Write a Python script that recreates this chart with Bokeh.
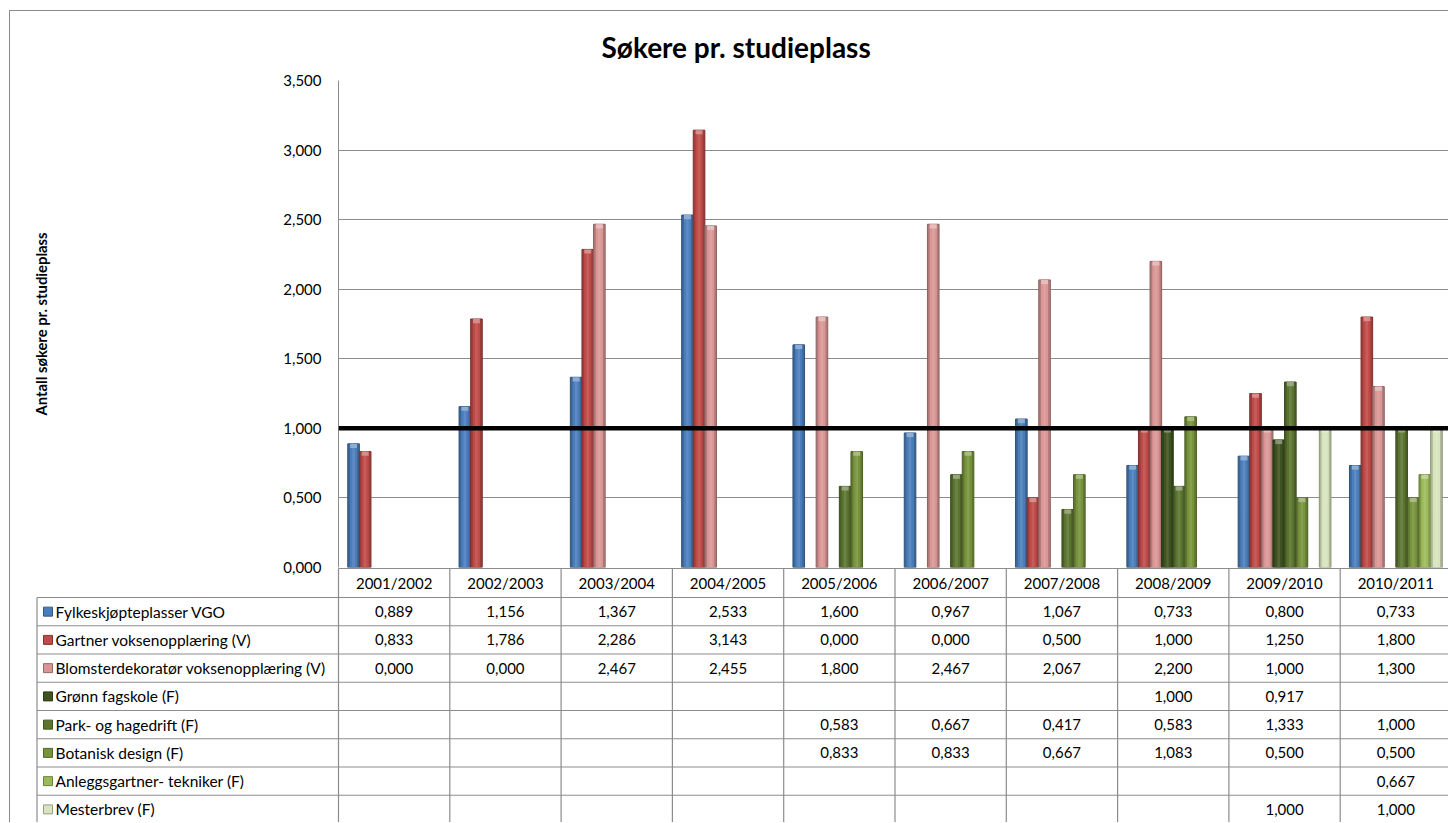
from bokeh.plotting import figure
from bokeh.models import Range1d, FixedTicker, Span, ColumnDataSource
from bokeh.layouts import column
from bokeh.core.properties import value
from bokeh.embed import file_html
from bokeh.resources import INLINE

# ---------------- data ----------------
categories = ["2001/2002", "2002/2003", "2003/2004", "2004/2005", "2005/2006",
              "2006/2007", "2007/2008", "2008/2009", "2009/2010", "2010/2011"]

series_names = ["Fylkeskjøpteplasser VGO",
                "Gartner voksenopplæring (V)",
                "Blomsterdekoratør voksenopplæring (V)",
                "Grønn fagskole  (F)",
                "Park- og hagedrift (F)",
                "Botanisk design (F)",
                "Anleggsgartner- tekniker (F)",
                "Mesterbrev (F)"]

fylkes = [0.889, 1.156, 1.367, 2.533, 1.600, 0.967, 1.067, 0.733, 0.800, 0.733]
gartner = [0.833, 1.786, 2.286, 3.143, 0.000, 0.000, 0.500, 1.000, 1.250, 1.800]
blomster = [0.000, 0.000, 2.467, 2.455, 1.800, 2.467, 2.067, 2.200, 1.000, 1.300]
gronn = [None, None, None, None, None, None, None, 1.000, 0.917, None]
park = [None, None, None, None, 0.583, 0.667, 0.417, 0.583, 1.333, 1.000]
botanisk = [None, None, None, None, 0.833, 0.833, 0.667, 1.083, 0.500, 0.500]
anlegg = [None, None, None, None, None, None, None, None, None, 0.667]
mester = [None, None, None, None, None, None, None, None, 1.000, 1.000]

series_values = [fylkes, gartner, blomster, gronn, park, botanisk, anlegg, mester]

y_ticks = [0.0, 0.5, 1.0, 1.5, 2.0, 2.5, 3.0, 3.5]
reference_level = 1.0

title_text = "Søkere pr. studieplass"
y_title = "Antall søkere pr. studieplass"

# ---------------- style ----------------
colors = ["#4A7EBB", "#BE4B48", "#D99694", "#3F5320",
          "#5B7430", "#77933C", "#9BBB59", "#D7E4BD"]
FONT = "Lato"
GRID = "#8c8c8c"
FS = "15px"
FS_LEG = "15.5px"


def shade(hexcol, f):
    h = hexcol.lstrip("#")
    r, g, b = (int(h[i:i + 2], 16) for i in (0, 2, 4))
    if f < 1:
        r, g, b = (int(c * f) for c in (r, g, b))
    else:
        t = f - 1
        r, g, b = (int(c + (255 - c) * t) for c in (r, g, b))
    return "#%02x%02x%02x" % (r, g, b)


def fmt(v):
    return ("%.3f" % v).replace(".", ",")


# layout constants (screen pixels)
PX = 111.3            # pixels per category
W = 1438
FRAME_LEFT = 328
HA = 568
HB = 255
ROW = 28.25
HDR_PX = 29
ncat = len(categories)
nser = len(series_values)
x_right = (W - FRAME_LEFT) / PX
bw = 0.1042

# ---------------- chart ----------------
pA = figure(width=W, height=HA, x_range=Range1d(0, x_right), y_range=Range1d(0, 3.5),
            output_backend="svg", toolbar_location=None, x_axis_location=None,
            min_border_left=FRAME_LEFT, min_border_right=0, min_border_top=69,
            min_border_bottom=12, title=title_text)
pA.outline_line_color = None
pA.xgrid.grid_line_color = None
pA.ygrid.ticker = FixedTicker(ticks=y_ticks)
pA.ygrid.grid_line_color = GRID
pA.ygrid.grid_line_width = 1

ax = pA.yaxis[0]
ax.ticker = FixedTicker(ticks=y_ticks)
ax.major_label_overrides = {t: fmt(t) for t in y_ticks}
ax.axis_line_color = GRID
ax.major_tick_out = 0
ax.major_tick_in = 0
ax.minor_tick_out = 0
ax.minor_tick_in = 0
ax.major_label_standoff = 17
ax.major_label_text_font = FONT
ax.major_label_text_font_size = FS
ax.major_label_text_color = "black"
ax.axis_label = y_title
ax.axis_label_text_font = FONT
ax.axis_label_text_font_size = "14.8px"
ax.axis_label_text_font_style = "bold"
ax.axis_label_text_color = "black"
ax.axis_label_standoff = 230

pA.title.text_font = FONT
pA.title.text_font_size = "28px"
pA.title.text_font_style = "bold"
pA.title.text_color = "black"
pA.title.align = "left"
pA.title.offset = 263
pA.title.standoff = 33

for k, vals in enumerate(series_values):
    xs, tops = [], []
    for i, v in enumerate(vals):
        if v is not None and v > 0:
            xs.append(i + 0.5 + (k - (nser - 1) / 2) * bw)
            tops.append(v)
    if not xs:
        continue
    src = ColumnDataSource(dict(x=xs, top=tops))
    col = colors[k]
    pA.vbar(x="x", top="top", bottom=0, width=bw, source=src,
            fill_color=shade(col, 0.82), line_color=shade(col, 0.65), line_width=1)
    pA.vbar(x="x", top="top", bottom=0, width=bw * 0.62, source=src,
            fill_color=col, line_color=None)
    pA.vbar(x="x", top="top", bottom=0, width=bw * 0.22, source=src,
            fill_color=shade(col, 1.18), fill_alpha=0.6, line_color=None)
    cap = ColumnDataSource(dict(x=xs, top=tops, bot=[t - 0.03 for t in tops]))
    pA.vbar(x="x", top="top", bottom="bot", width=bw * 0.6, source=cap,
            fill_color=shade(col, 1.45), fill_alpha=0.8, line_color=None)

pA.add_layout(Span(location=reference_level, dimension="width",
                   line_color="black", line_width=4.5))

# ---------------- data table ----------------
hdr = -HDR_PX / ROW
top_val = hdr - 1.0 / ROW
bot_val = top_val + HB / ROW
legend_left = (36.5 - 10 - FRAME_LEFT) / PX
pB = figure(width=W, height=HB, x_range=Range1d(-FRAME_LEFT / PX, x_right),
            y_range=Range1d(bot_val, top_val), output_backend="svg", toolbar_location=None,
            x_axis_location=None, y_axis_location=None, min_border=0)
pB.min_border_left = 0
pB.min_border_right = 0
pB.min_border_top = 0
pB.min_border_bottom = 0
pB.outline_line_color = None
pB.grid.grid_line_color = None
pB.background_fill_color = None
pB.border_fill_color = None
pB.background_fill_alpha = 0
pB.border_fill_alpha = 0

x0s, y0s, x1s, y1s = [], [], [], []
x0s.append(0); y0s.append(hdr); x1s.append(x_right + 1); y1s.append(hdr)
for r in range(nser + 1):
    x0s.append(legend_left); y0s.append(r); x1s.append(x_right + 1); y1s.append(r)
x0s.append(legend_left); y0s.append(0); x1s.append(legend_left); y1s.append(nser)
for c in range(ncat + 1):
    x0s.append(c); y0s.append(hdr); x1s.append(c); y1s.append(nser)
pB.segment(x0=x0s, y0=y0s, x1=x1s, y1=y1s, line_color=GRID, line_width=1.2)

pB.text(x=[i + 0.5 for i in range(ncat)], y=[hdr / 2] * ncat, text=categories,
        text_align="center", text_baseline="middle", text_font=value(FONT),
        text_font_size=value(FS), text_color="black")

key_x = legend_left + (47.5 - 36.5) / PX
pB.scatter(x=[key_x] * nser, y=[r + 0.5 for r in range(nser)], marker="square", size=9,
           fill_color=colors, line_color=[shade(c, 0.7) for c in colors], line_width=1)
pB.text(x=[legend_left + (55 - 36.5) / PX] * nser, y=[r + 0.5 for r in range(nser)],
        text=series_names, text_align="left", text_baseline="middle",
        text_font=value(FONT), text_font_size=value(FS_LEG), text_color="black")

tx, ty, tt = [], [], []
for r, vals in enumerate(series_values):
    for i, v in enumerate(vals):
        if v is not None:
            tx.append(i + 0.5); ty.append(r + 0.5); tt.append(fmt(v))
pB.text(x=tx, y=ty, text=tt, text_align="center", text_baseline="middle",
        text_font=value(FONT), text_font_size=value(FS), text_color="black")

rootA = column(pA, styles={"margin-left": "9px", "margin-top": "10px",
                           "border-left": "1px solid #8c8c8c",
                           "border-top": "1px solid #8c8c8c"})
rootB = column(pB, styles={"margin-left": "9px", "margin-top": "-12px",
                           "border-left": "1px solid #8c8c8c"})

open("out.html", "w").write(file_html([rootA, rootB], INLINE))
